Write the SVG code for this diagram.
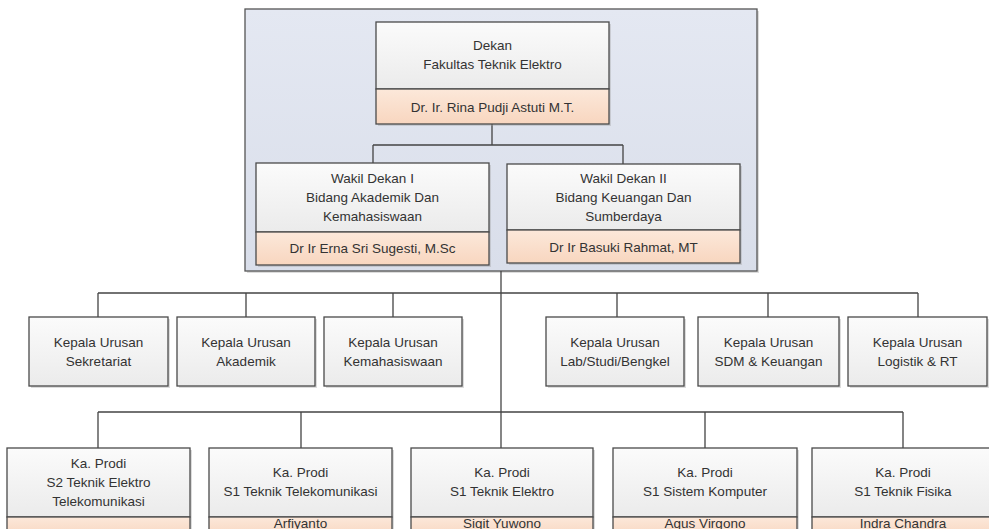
<svg xmlns="http://www.w3.org/2000/svg" width="989" height="529" viewBox="0 0 989 529">
<defs>
<linearGradient id="gBox" x1="0" y1="0" x2="0" y2="1"><stop offset="0" stop-color="#fbfbfb"/><stop offset="1" stop-color="#ebebeb"/></linearGradient>
<linearGradient id="gName" x1="0" y1="0" x2="0" y2="1"><stop offset="0" stop-color="#fce8da"/><stop offset="1" stop-color="#f8d6bf"/></linearGradient>
<linearGradient id="gCont" x1="0" y1="0" x2="0" y2="1"><stop offset="0" stop-color="#e4e8f2"/><stop offset="1" stop-color="#d9deea"/></linearGradient>
</defs>
<style>
.box{fill:url(#gBox);stroke:#4a4a4a;stroke-width:1.3}
.name{fill:url(#gName);stroke:#4a4a4a;stroke-width:1.3}
.sh{fill:#9a9a9a;opacity:0.35}
.cont{fill:url(#gCont);stroke:#555;stroke-width:1.3}
.t{font-family:"Liberation Sans",Arial,sans-serif;font-size:13.5px;fill:#333;text-anchor:middle}
.ln{fill:none;stroke:#444;stroke-width:1.3}
</style>
<g id="container">
<rect class="sh" x="247" y="11" width="512" height="262"/>
<rect class="cont" x="245" y="9" width="512" height="262"/>
</g>
<g id="connectors">
<path class="ln" d="M492,124V145M373,145H623M373,145V163M623,145V164"/>
<path class="ln" d="M501,271V448"/>
<path class="ln" d="M98,293H918M98,293V317M246,293V317M393,293V317M617,293V317M768,293V317M918,293V317"/>
<path class="ln" d="M98,412H903M98,412V448M301,412V448M705,412V448M903,412V448"/>
</g>
<g id="dekan">
<rect class="sh" x="378" y="24" width="233" height="102"/>
<rect class="box" x="376" y="22" width="233" height="67"/>
<rect class="name" x="376" y="89" width="233" height="35"/>
<text class="t" x="492.5" y="50">Dekan</text>
<text class="t" x="492.5" y="69">Fakultas Teknik Elektro</text>
<text class="t" x="492.5" y="112">Dr. Ir. Rina Pudji Astuti M.T.</text>
</g>
<g id="wakil1">
<rect class="sh" x="258" y="165" width="233" height="102"/>
<rect class="box" x="256" y="163" width="233" height="69"/>
<rect class="name" x="256" y="232" width="233" height="33"/>
<text class="t" x="372.5" y="183">Wakil Dekan I</text>
<text class="t" x="372.5" y="202">Bidang Akademik Dan</text>
<text class="t" x="372.5" y="221">Kemahasiswaan</text>
<text class="t" x="372.5" y="253">Dr Ir Erna Sri Sugesti, M.Sc</text>
</g>
<g id="wakil2">
<rect class="sh" x="509" y="166" width="233" height="99"/>
<rect class="box" x="507" y="164" width="233" height="66"/>
<rect class="name" x="507" y="230" width="233" height="33"/>
<text class="t" x="623.5" y="183">Wakil Dekan II</text>
<text class="t" x="623.5" y="202">Bidang Keuangan Dan</text>
<text class="t" x="623.5" y="221">Sumberdaya</text>
<text class="t" x="623.5" y="252">Dr Ir Basuki Rahmat, MT</text>
</g>
<g id="kaur1">
<rect class="sh" x="31" y="319" width="139" height="69"/>
<rect class="box" x="29" y="317" width="139" height="69"/>
<text class="t" x="98.5" y="347">Kepala Urusan</text>
<text class="t" x="98.5" y="366">Sekretariat</text>
</g>
<g id="kaur2">
<rect class="sh" x="179" y="319" width="138" height="69"/>
<rect class="box" x="177" y="317" width="138" height="69"/>
<text class="t" x="246" y="347">Kepala Urusan</text>
<text class="t" x="246" y="366">Akademik</text>
</g>
<g id="kaur3">
<rect class="sh" x="326" y="319" width="138" height="69"/>
<rect class="box" x="324" y="317" width="138" height="69"/>
<text class="t" x="393" y="347">Kepala Urusan</text>
<text class="t" x="393" y="366">Kemahasiswaan</text>
</g>
<g id="kaur4">
<rect class="sh" x="548" y="319" width="138" height="69"/>
<rect class="box" x="546" y="317" width="138" height="69"/>
<text class="t" x="615" y="347">Kepala Urusan</text>
<text class="t" x="615" y="366">Lab/Studi/Bengkel</text>
</g>
<g id="kaur5">
<rect class="sh" x="700" y="319" width="141" height="69"/>
<rect class="box" x="698" y="317" width="141" height="69"/>
<text class="t" x="768.5" y="347">Kepala Urusan</text>
<text class="t" x="768.5" y="366">SDM &amp; Keuangan</text>
</g>
<g id="kaur6">
<rect class="sh" x="850" y="319" width="139" height="69"/>
<rect class="box" x="848" y="317" width="139" height="69"/>
<text class="t" x="917.5" y="347">Kepala Urusan</text>
<text class="t" x="917.5" y="366">Logistik &amp; RT</text>
</g>
<g id="prodi1">
<rect class="sh" x="9" y="450" width="183" height="90"/>
<rect class="box" x="7" y="448" width="183" height="69"/>
<rect class="name" x="7" y="517" width="183" height="20"/>
<text class="t" x="98.5" y="468">Ka. Prodi</text>
<text class="t" x="98.5" y="487">S2 Teknik Elektro</text>
<text class="t" x="98.5" y="506">Telekomunikasi</text>
</g>
<g id="prodi2">
<rect class="sh" x="211" y="450" width="183" height="90"/>
<rect class="box" x="209" y="448" width="183" height="69"/>
<rect class="name" x="209" y="517" width="183" height="20"/>
<text class="t" x="300.5" y="477">Ka. Prodi</text>
<text class="t" x="300.5" y="496">S1 Teknik Telekomunikasi</text>
<text class="t" x="300.5" y="528">Arfiyanto</text>
</g>
<g id="prodi3">
<rect class="sh" x="413" y="450" width="182" height="90"/>
<rect class="box" x="411" y="448" width="182" height="69"/>
<rect class="name" x="411" y="517" width="182" height="20"/>
<text class="t" x="502" y="477">Ka. Prodi</text>
<text class="t" x="502" y="496">S1 Teknik Elektro</text>
<text class="t" x="502" y="528">Sigit Yuwono</text>
</g>
<g id="prodi4">
<rect class="sh" x="615" y="450" width="184" height="90"/>
<rect class="box" x="613" y="448" width="184" height="69"/>
<rect class="name" x="613" y="517" width="184" height="20"/>
<text class="t" x="705" y="477">Ka. Prodi</text>
<text class="t" x="705" y="496">S1 Sistem Komputer</text>
<text class="t" x="705" y="528">Agus Virgono</text>
</g>
<g id="prodi5">
<rect class="sh" x="814" y="450" width="182" height="90"/>
<rect class="box" x="812" y="448" width="182" height="69"/>
<rect class="name" x="812" y="517" width="182" height="20"/>
<text class="t" x="903" y="477">Ka. Prodi</text>
<text class="t" x="903" y="496">S1 Teknik Fisika</text>
<text class="t" x="903" y="528">Indra Chandra</text>
</g>
</svg>
